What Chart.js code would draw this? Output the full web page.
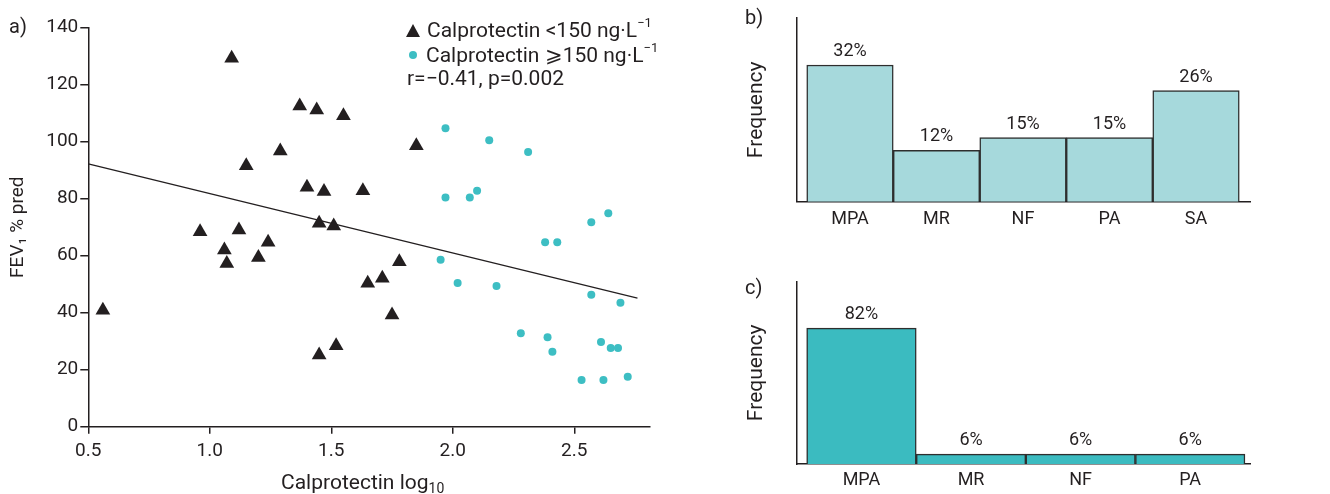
<!DOCTYPE html>
<html lang="en">
<head>
    <meta charset="UTF-8">
    <title>Calprotectin and FEV1</title>
    <script src="https://cdn.jsdelivr.net/npm/chart.js"></script>
    <style>
        body {
            margin: 0;
            background: #ffffff;
            font-family: Roboto, sans-serif;
            color: #231f20;
        }

        .page {
            position: relative;
            width: 1330px;
            height: 494px;
            overflow: hidden;
        }

        canvas {
            position: absolute;
        }

        .tag,
        .leg {
            position: absolute;
            font-size: 20px;
            line-height: 22px;
            white-space: nowrap;
        }

        .leg {
            font-size: 21px;
        }

        .leg sup {
            font-size: 13px;
            position: relative;
            top: -2px;
        }

        .leg sub {
            font-size: 14px;
            vertical-align: baseline;
            position: relative;
            top: 4px;
        }

        .tri {
            display: inline-block;
            width: 0;
            height: 0;
            border-left: 7px solid transparent;
            border-right: 7px solid transparent;
            border-bottom: 13px solid #231f20;
            margin-right: 7px;
        }

        .dot {
            display: inline-block;
            width: 8px;
            height: 8px;
            border-radius: 50%;
            background: #3dbec3;
            margin: 0 9px 3px 2px;
        }
    </style>
</head>
<body>
<div class="page">
    <canvas id="chartA" width="665" height="494" style="left:0;top:0"></canvas>
    <canvas id="chartB" width="520" height="240" style="left:735px;top:0"></canvas>
    <canvas id="chartC" width="520" height="234" style="left:735px;top:260px"></canvas>

    <div class="tag" style="left:9px;top:15px">a)</div>
    <div class="tag" style="left:745px;top:6px">b)</div>
    <div class="tag" style="left:745px;top:276px">c)</div>

    <div class="leg" style="left:406px;top:13.5px"><span class="tri"></span>Calprotectin &lt;150 ng·L<sup>−1</sup></div>
    <div class="leg" style="left:407px;top:39px"><span class="dot"></span>Calprotectin ⩾150 ng·L<sup>−1</sup></div>
    <div class="leg" style="left:407px;top:66.8px">r=−0.41, p=0.002</div>
    <div class="leg" style="left:281px;top:471px">Calprotectin log<sub>10</sub></div>
</div>

<script>
    // panel a : calprotectin (log10) vs FEV1 % pred
    const lowX = [0.56, 0.96, 1.06, 1.07, 1.09, 1.12, 1.15, 1.20, 1.24, 1.29, 1.37, 1.40, 1.44, 1.45, 1.45, 1.47, 1.51, 1.52, 1.55, 1.63, 1.65, 1.71, 1.75, 1.78, 1.85];
    const lowY = [40.9, 68.4, 62.0, 57.3, 129.3, 69.0, 91.6, 59.4, 64.7, 96.7, 112.5, 84.0, 111.1, 71.4, 25.2, 82.5, 70.4, 28.4, 109.1, 82.8, 50.3, 52.1, 39.2, 57.9, 98.6];
    const highX = [1.97, 2.15, 2.31, 1.97, 2.07, 2.10, 2.57, 2.64, 2.38, 2.43, 1.95, 2.02, 2.18, 2.57, 2.69, 2.28, 2.39, 2.41, 2.61, 2.65, 2.68, 2.53, 2.62, 2.72];
    const highY = [104.7, 100.5, 96.4, 80.4, 80.4, 82.8, 71.7, 74.9, 64.7, 64.7, 58.6, 50.4, 49.4, 46.3, 43.5, 32.8, 31.4, 26.3, 29.7, 27.6, 27.6, 16.4, 16.4, 17.5];
    const fitX = [0.5, 2.76];
    const fitY = [92.2, 45.1];
    const xTicksA = [0.5, 1.0, 1.5, 2.0, 2.5];

    // panel b and c : frequencies (%)
    const catsB = ['MPA', 'MR', 'NF', 'PA', 'SA'];
    const valsB = [32, 12, 15, 15, 26];
    const catsC = ['MPA', 'MR', 'NF', 'PA'];
    const valsC = [82, 6, 6, 6];

    const ink = '#231f20';
    const tickFont = { family: 'Roboto', size: 19 };
    const catFont = { family: 'Roboto', size: 18 };
    const titleFont = { family: 'Roboto', size: 21 };

    Chart.defaults.font.family = 'Roboto';
    Chart.defaults.color = ink;

    const toPoints = (xs, ys) => xs.map((x, i) => ({ x: x, y: ys[i] }));

    new Chart(document.getElementById('chartA'), {
        type: 'scatter',
        data: {
            datasets: [{
                data: toPoints(lowX, lowY),
                pointStyle: 'triangle',
                pointRadius: 8.5,
                backgroundColor: ink,
                borderColor: ink,
                borderWidth: 0
            }, {
                data: toPoints(highX, highY),
                pointStyle: 'circle',
                pointRadius: 4,
                backgroundColor: '#3dbec3',
                borderWidth: 0
            }, {
                data: toPoints(fitX, fitY),
                showLine: true,
                pointRadius: 0,
                borderColor: ink,
                borderWidth: 1.3
            }]
        },
        options: {
            responsive: false,
            animation: false,
            layout: { padding: { top: 27.7, right: 15.4, left: 0, bottom: 0 } },
            plugins: { legend: { display: false }, tooltip: { enabled: false } },
            scales: {
                x: {
                    type: 'linear',
                    min: 0.5,
                    max: 2.81,
                    afterBuildTicks: axis => { axis.ticks = xTicksA.map(v => ({ value: v })); },
                    afterFit: axis => { axis.height = 67.3; },
                    ticks: { font: tickFont, padding: 6, callback: v => v.toFixed(1), maxRotation: 0 },
                    grid: { drawOnChartArea: false, drawTicks: true, tickLength: 7, color: ink, lineWidth: 1.5 },
                    border: { display: true, color: ink, width: 1.5 },
                    title: { display: false }
                },
                y: {
                    min: 0,
                    max: 140,
                    afterFit: axis => { axis.width = 88.3; },
                    ticks: { stepSize: 20, font: tickFont, padding: 2 },
                    grid: { drawOnChartArea: false, drawTicks: true, tickLength: 8, color: ink, lineWidth: 1.5 },
                    border: { display: true, color: ink, width: 1.5 },
                    title: { display: true, text: 'FEV₁ % pred', font: { family: 'Roboto', size: 19 }, padding: { top: 7, bottom: 0 } }
                }
            }
        }
    });

    // percent labels above the bars
    const pctLabels = {
        id: 'pctLabels',
        afterDatasetsDraw(chart) {
            const ctx = chart.ctx;
            const meta = chart.getDatasetMeta(0);
            ctx.save();
            ctx.font = '18px Roboto';
            ctx.fillStyle = ink;
            ctx.textAlign = 'center';
            ctx.textBaseline = 'middle';
            meta.data.forEach((bar, i) => {
                ctx.fillText(chart.data.datasets[0].data[i].y + '%', bar.x, bar.y - 13.5);
            });
            ctx.restore();
        }
    };

    function barPanel(id, cats, vals, fill, xMin, xMax, yMax, padTop, xHeight, labPad) {
        return new Chart(document.getElementById(id), {
            type: 'bar',
            data: {
                datasets: [{
                    data: cats.map((c, i) => ({ x: i, y: vals[i] })),
                    backgroundColor: fill,
                    borderColor: '#2e2e2e',
                    borderWidth: 1.5,
                    categoryPercentage: 1,
                    barPercentage: 1
                }]
            },
            options: {
                responsive: false,
                animation: false,
                layout: { padding: { top: padTop, right: 5, left: 0, bottom: 0 } },
                plugins: { legend: { display: false }, tooltip: { enabled: false } },
                scales: {
                    x: {
                        type: 'linear',
                        offset: false,
                        min: xMin,
                        max: xMax,
                        afterBuildTicks: axis => { axis.ticks = cats.map((c, i) => ({ value: i })); },
                        afterFit: axis => { axis.height = xHeight; },
                        ticks: { font: catFont, padding: labPad, callback: v => cats[v], maxRotation: 0, autoSkip: false },
                        grid: { display: false, drawTicks: false },
                        border: { display: true, color: ink, width: 1.5 }
                    },
                    y: {
                        min: 0,
                        max: yMax,
                        afterFit: axis => { axis.width = 61.7; },
                        ticks: { display: false },
                        grid: { display: false, drawTicks: false },
                        border: { display: true, color: ink, width: 1.5 },
                        title: { display: true, text: 'Frequency', font: titleFont, padding: { top: 9, bottom: 0 } }
                    }
                }
            },
            plugins: [pctLabels]
        });
    }

    barPanel('chartB', catsB, valsB, '#a6d9dc', -0.616, 4.624, 43, 18, 38.3, 7);
    barPanel('chartC', catsC, valsC, '#3bbbc0', -0.591, 3.546, 110, 21.7, 30, 6);
</script>
</body>
</html>
